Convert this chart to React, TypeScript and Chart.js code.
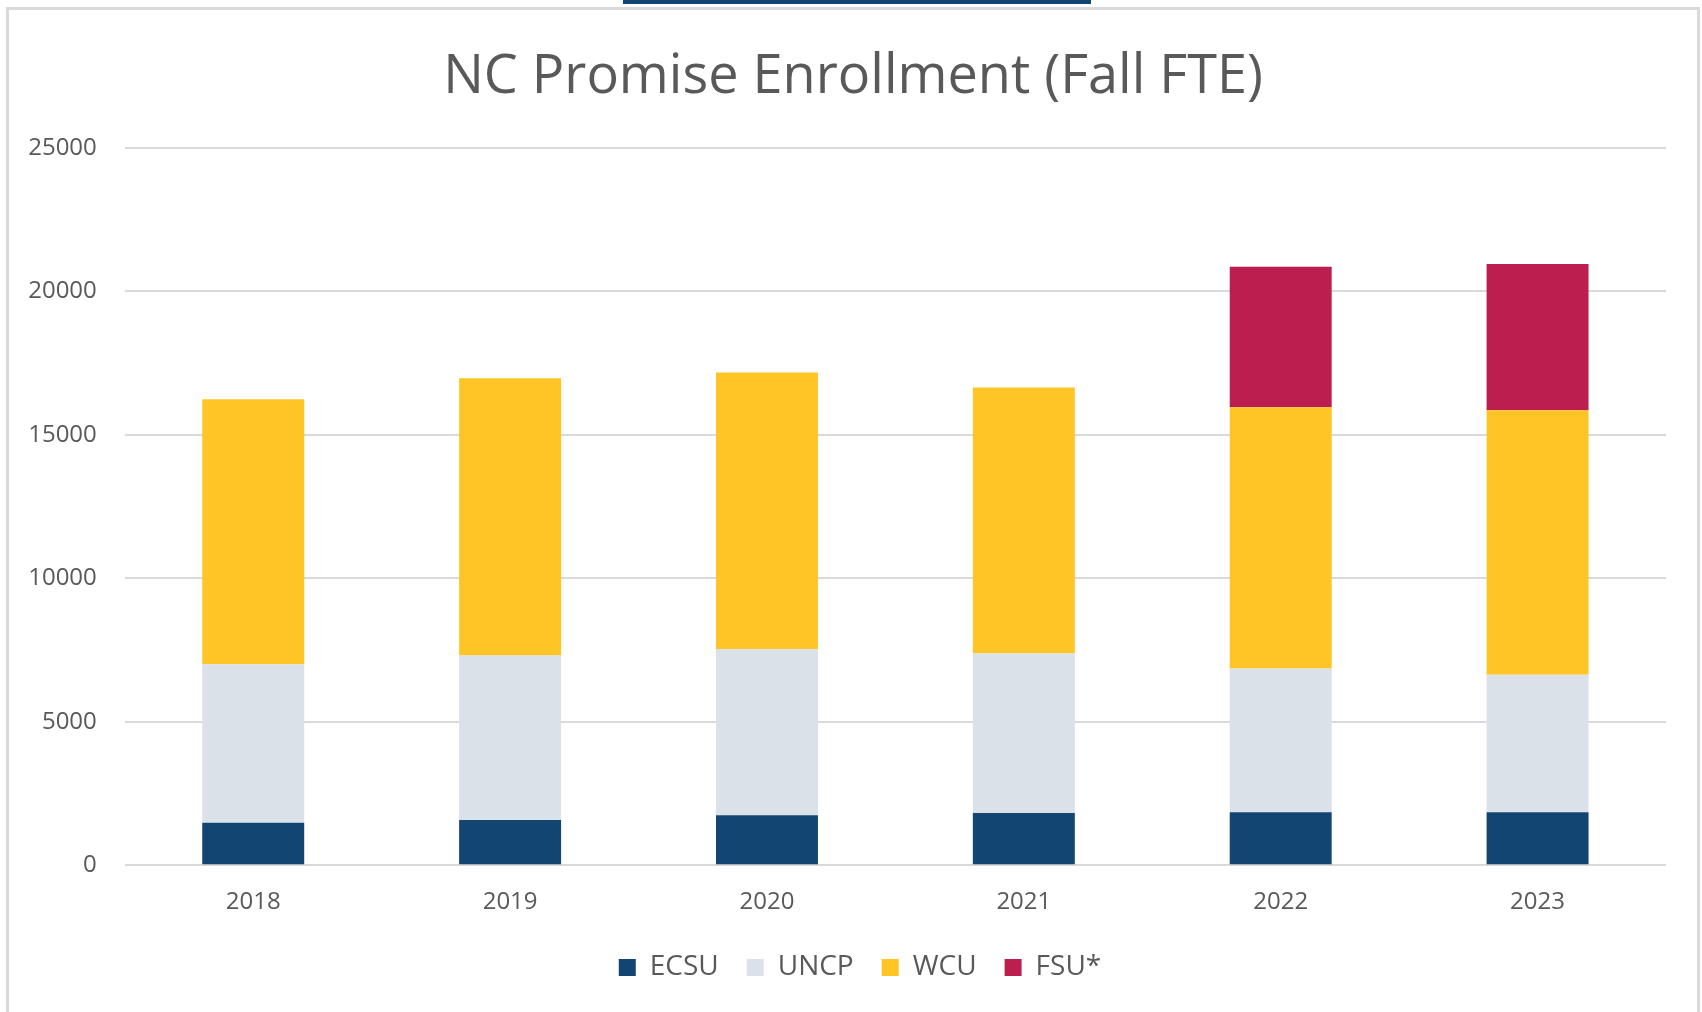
import React, { useEffect, useRef } from 'react';
import { Chart, registerables } from 'chart.js';

Chart.register(...registerables);

const CATEGORIES = ['2018', '2019', '2020', '2021', '2022', '2023'];
const ECSU = [1475, 1575, 1740, 1815, 1845, 1845];
const UNCP = [5525, 5730, 5790, 5560, 5010, 4790];
const WCU = [9240, 9660, 9640, 9270, 9100, 9220];
const FSU = [null, null, null, null, 4900, 5100];
const SERIES_NAMES = ['ECSU', 'UNCP', 'WCU', 'FSU*'];
const SERIES_COLORS = ['#124571', '#DAE1E9', '#FFC425', '#BC1F4F'];
const Y_MIN = 0;
const Y_MAX = 25000;
const Y_STEP = 5000;
const TITLE = 'NC Promise Enrollment (Fall FTE)';

const LEGEND_SHIFT = 22;
const TITLE_SHIFT = 15;

const shiftPlugin = {
  id: 'shiftBoxes',
  afterLayout(chart: any) {
    const lg = chart.legend;
    if (lg) { lg.left += LEGEND_SHIFT; lg.right += LEGEND_SHIFT; }
    const tb = chart.titleBlock;
    if (tb) { tb.left += TITLE_SHIFT; tb.right += TITLE_SHIFT; }
  },
};

export default function App() {
  const ref = useRef<HTMLCanvasElement>(null);

  useEffect(() => {
    document.body.style.margin = '0';
    document.body.style.overflow = 'hidden';
    const seriesData = [ECSU, UNCP, WCU, FSU];
    const chart = new Chart(ref.current!, {
      type: 'bar',
      data: {
        labels: CATEGORIES,
        datasets: seriesData.map((d, i) => ({
          label: SERIES_NAMES[i],
          data: d as any,
          backgroundColor: SERIES_COLORS[i],
          borderWidth: 0,
          barPercentage: 0.397,
          categoryPercentage: 1,
        })),
      },
      plugins: [shiftPlugin],
      options: {
        animation: false,
        responsive: true,
        maintainAspectRatio: false,
        layout: { padding: { left: 0, right: 32, top: 0, bottom: 20.5 } },
        plugins: {
          title: {
            display: true,
            text: TITLE,
            color: '#595959',
            font: { family: 'Open Sans', size: 54, weight: 'normal' },
            padding: { top: 35.5, bottom: 37.5 },
          },
          legend: {
            position: 'bottom',
            labels: {
              boxWidth: 17,
              boxHeight: 17,
              padding: 28,
              color: '#595959',
              font: { family: 'Open Sans', size: 28 },
            },
          },
          tooltip: { enabled: false },
        },
        scales: {
          x: {
            stacked: true,
            grid: { display: false },
            border: { display: false },
            ticks: {
              color: '#595959',
              padding: 14.5,
              font: { family: 'Open Sans', size: 24 },
            },
            afterFit: (s: any) => { s.height = 60.3; },
          },
          y: {
            stacked: true,
            min: Y_MIN,
            max: Y_MAX,
            grid: { color: '#d9d9d9', lineWidth: 2, drawTicks: false },
            border: { display: false },
            ticks: {
              stepSize: Y_STEP,
              color: '#595959',
              padding: 28,
              font: { family: 'Open Sans', size: 24 },
              callback: (v: any) => String(v),
            },
            afterFit: (s: any) => { s.width = 114.8; },
          },
        },
      },
    });
    return () => chart.destroy();
  }, []);

  return (
    <div style={{ position: 'relative', width: 1702, height: 1012, overflow: 'hidden', background: '#fff' }}>
      <div style={{ position: 'absolute', left: 623, top: 0, width: 468, height: 4, background: '#124571' }} />
      <div
        style={{
          position: 'absolute', left: 6, top: 7, width: 1694, height: 1100,
          border: '3px solid #d9d9d9', borderBottom: 'none', boxSizing: 'border-box',
        }}
      />
      <div style={{ position: 'absolute', left: 10, top: 10, width: 1688, height: 1002 }}>
        <canvas ref={ref} />
      </div>
    </div>
  );
}
